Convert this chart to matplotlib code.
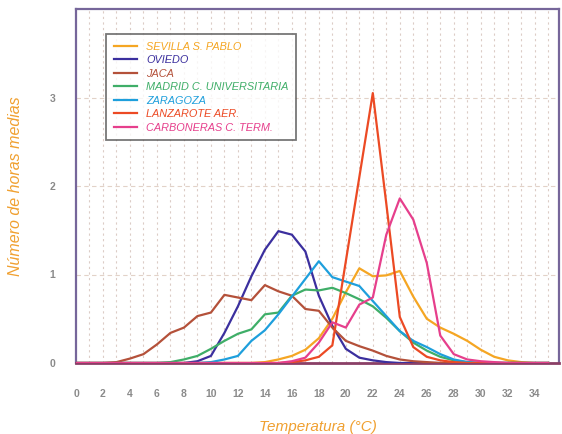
import matplotlib
matplotlib.use("Agg")
import matplotlib.pyplot as plt
import numpy as np

plt.rcParams['font.family'] = ['Liberation Sans', 'DejaVu Sans']

temps = list(range(0, 36))

def full(d):
    return [d.get(t, 0.0) for t in temps]

sevilla = full({14: 0.01, 15: 0.04, 16: 0.08, 17: 0.15, 18: 0.28, 19: 0.5, 20: 0.8,
                21: 1.07, 22: 0.98, 23: 0.99, 24: 1.04, 25: 0.75, 26: 0.5, 27: 0.4,
                28: 0.33, 29: 0.25, 30: 0.15, 31: 0.07, 32: 0.03, 33: 0.01})
oviedo = full({9: 0.02, 10: 0.08, 11: 0.34, 12: 0.64, 13: 0.98, 14: 1.28, 15: 1.49,
               16: 1.45, 17: 1.26, 18: 0.76, 19: 0.42, 20: 0.16, 21: 0.06, 22: 0.03,
               23: 0.01})
jaca = full({3: 0.01, 4: 0.05, 5: 0.1, 6: 0.21, 7: 0.34, 8: 0.4, 9: 0.53, 10: 0.57,
             11: 0.77, 12: 0.74, 13: 0.71, 14: 0.88, 15: 0.81, 16: 0.76, 17: 0.61,
             18: 0.59, 19: 0.4, 20: 0.25, 21: 0.19, 22: 0.14, 23: 0.08, 24: 0.04,
             25: 0.02, 26: 0.01})
madrid = full({7: 0.01, 8: 0.04, 9: 0.08, 10: 0.16, 11: 0.25, 12: 0.33, 13: 0.38,
               14: 0.55, 15: 0.57, 16: 0.76, 17: 0.83, 18: 0.82, 19: 0.85, 20: 0.79,
               21: 0.72, 22: 0.64, 23: 0.51, 24: 0.36, 25: 0.23, 26: 0.14, 27: 0.07,
               28: 0.03, 29: 0.01})
zaragoza = full({10: 0.01, 11: 0.04, 12: 0.08, 13: 0.25, 14: 0.37, 15: 0.55, 16: 0.75,
                 17: 0.95, 18: 1.15, 19: 0.97, 20: 0.92, 21: 0.87, 22: 0.7, 23: 0.53,
                 24: 0.36, 25: 0.25, 26: 0.18, 27: 0.1, 28: 0.04, 29: 0.01})
lanzarote = full({16: 0.01, 17: 0.03, 18: 0.07, 19: 0.2, 20: 1.15, 21: 2.1, 22: 3.05,
                  23: 1.8, 24: 0.52, 25: 0.18, 26: 0.07, 27: 0.03, 28: 0.01})
carboneras = full({16: 0.02, 17: 0.06, 18: 0.23, 19: 0.46, 20: 0.4, 21: 0.66, 22: 0.74,
                   23: 1.45, 24: 1.86, 25: 1.62, 26: 1.13, 27: 0.31, 28: 0.1, 29: 0.04,
                   30: 0.02, 31: 0.01})

names = ["SEVILLA S. PABLO", "OVIEDO", "JACA", "MADRID C. UNIVERSITARIA",
         "ZARAGOZA", "LANZAROTE AER.", "CARBONERAS C. TERM."]
series = [sevilla, oviedo, jaca, madrid, zaragoza, lanzarote, carboneras]
colors = ["#f5a623", "#3b2f9e", "#b4513a", "#3fae68", "#1e9fdc", "#ec4a24", "#e63f8c"]

xticks = list(range(0, 35, 2))
yticks = [0, 1, 2, 3]

fig = plt.figure(figsize=(5.62, 4.34), dpi=100)
ax = fig.add_axes([76/562, 1-363/434, (559-76)/562, (363-9)/434])

for t in range(1, 36):
    ax.axvline(t, color="#dcccc6", lw=0.8, ls=(0, (2, 3)), zorder=0)
for v in [1, 2, 3]:
    ax.axhline(v, color="#e2d2c8", lw=0.8, ls=(0, (4, 3)), zorder=0)

for s, c, n in zip(series, colors, names):
    ax.plot(temps, s, color=c, lw=1.6, label=n, zorder=3)

ax.set_xlim(0, 35.8)
ax.set_ylim(0, 4)
ax.set_xticks(xticks)
ax.set_yticks(yticks)
ax.tick_params(length=0, labelsize=7.5, colors="#8a8a8a")
ax.tick_params(axis='x', pad=19)
ax.tick_params(axis='y', pad=15)
for lab in ax.get_xticklabels() + ax.get_yticklabels():
    lab.set_fontweight('bold')

for side in ['left', 'top', 'right']:
    ax.spines[side].set_color("#76669a")
    ax.spines[side].set_linewidth(1.6)
ax.spines['bottom'].set_color("#8a3f66")
ax.spines['bottom'].set_linewidth(2)

ax.set_xlabel("Temperatura (°C)", color="#f0a030", style='italic', fontsize=11, labelpad=15)
ax.set_ylabel("Número de horas medias", color="#f0a030", style='italic', fontsize=11.5, labelpad=19)

leg = ax.legend(loc='upper left', bbox_to_anchor=(0.062, 0.929), fontsize=7.8,
                frameon=True, fancybox=False, handlelength=2.2, labelspacing=0.32,
                borderpad=0.7, handletextpad=0.8, borderaxespad=0)
leg.get_frame().set_edgecolor("#555555")
leg.get_frame().set_linewidth(1.3)
for txt, c in zip(leg.get_texts(), colors):
    txt.set_color(c)
    txt.set_style('italic')

fig.savefig("out.png", dpi=100)
